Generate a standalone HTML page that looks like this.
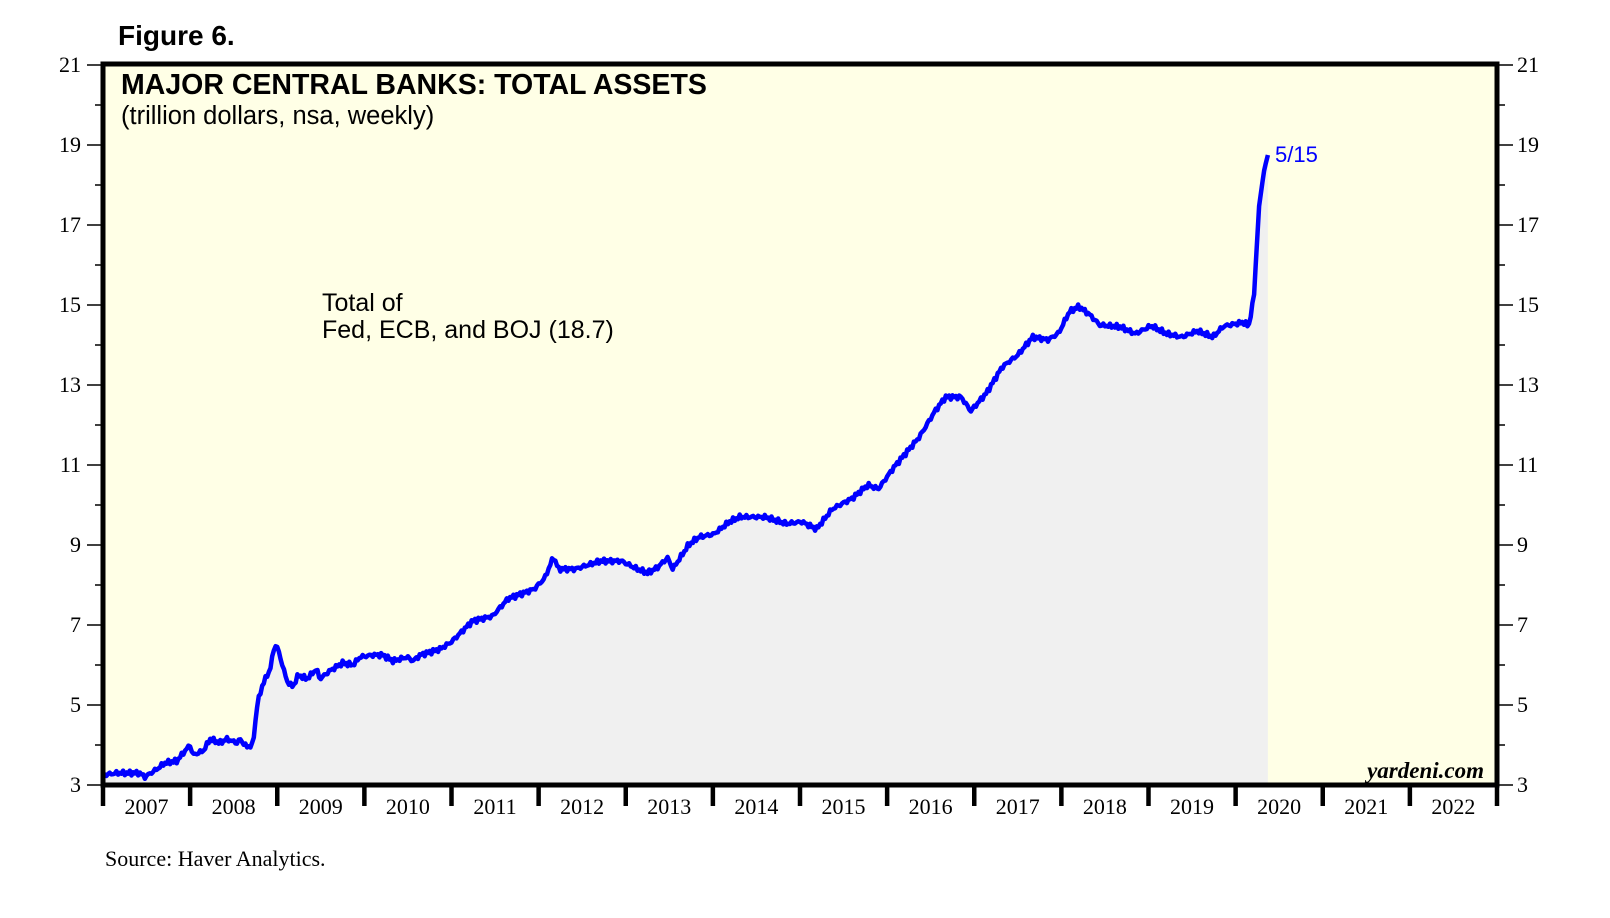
<!DOCTYPE html><html><head><meta charset="utf-8"><style>
body{margin:0;background:#fff;width:1610px;height:918px;overflow:hidden}
svg{display:block}
.t{font-family:"Liberation Serif",serif;font-size:22px;fill:#000}
.s{font-family:"Liberation Sans",sans-serif}
</style></head><body>
<svg id="c" width="1610" height="918" xmlns="http://www.w3.org/2000/svg">
<rect x="103" y="64" width="1394" height="721" fill="#ffffe6"/>
<path id="fill" fill="#f0f0f0"/>
<path id="line" fill="none" stroke="#0000ff" stroke-width="4.5" stroke-linejoin="round"/>
<g id="ticks"></g>
<rect x="103" y="64" width="1394" height="721" fill="none" stroke="#000" stroke-width="5"/>
<text x="118" y="45" class="s" font-size="28" font-weight="bold">Figure 6.</text>
<text x="121" y="94" class="s" font-size="28.5" font-weight="bold">MAJOR CENTRAL BANKS: TOTAL ASSETS</text>
<text x="121" y="124" class="s" font-size="25.5">(trillion dollars, nsa, weekly)</text>
<text x="322" y="311" class="s" font-size="25">Total of</text>
<text x="322" y="338" class="s" font-size="25">Fed, ECB, and BOJ (18.7)</text>
<text x="1275" y="162" class="s" font-size="22" fill="#0000ff">5/15</text>
<text x="1484" y="778" font-family="Liberation Serif,serif" font-size="23" font-weight="bold" font-style="italic" text-anchor="end">yardeni.com</text>
<text x="105" y="866" class="t" font-size="22.5">Source: Haver Analytics.</text>
</svg>
<script>
var d=[[2007,3.25],[2007.16,3.3],[2007.42,3.3],[2007.48,3.2],[2007.62,3.4],[2007.71,3.55],[2007.85,3.6],[2007.92,3.8],[2008,4],[2008.03,3.75],[2008.15,3.85],[2008.23,4.15],[2008.34,4.05],[2008.42,4.15],[2008.54,4.05],[2008.57,4.15],[2008.65,3.95],[2008.72,4],[2008.77,5],[2008.83,5.5],[2008.92,5.9],[2008.97,6.5],[2009,6.45],[2009.06,6],[2009.11,5.6],[2009.18,5.45],[2009.24,5.75],[2009.34,5.65],[2009.45,5.9],[2009.49,5.65],[2009.6,5.85],[2009.75,6.05],[2009.87,6],[2009.95,6.2],[2010.1,6.25],[2010.21,6.25],[2010.33,6.1],[2010.49,6.2],[2010.56,6.1],[2010.64,6.25],[2010.87,6.4],[2011,6.58],[2011.18,6.97],[2011.24,7.1],[2011.47,7.22],[2011.65,7.66],[2011.95,7.9],[2012.07,8.17],[2012.17,8.7],[2012.23,8.4],[2012.42,8.4],[2012.71,8.6],[2012.95,8.6],[2013.13,8.4],[2013.25,8.3],[2013.36,8.43],[2013.48,8.68],[2013.54,8.4],[2013.72,9],[2013.84,9.2],[2014.01,9.27],[2014.19,9.58],[2014.31,9.7],[2014.6,9.7],[2014.84,9.53],[2015.02,9.58],[2015.19,9.4],[2015.37,9.9],[2015.6,10.17],[2015.78,10.5],[2015.9,10.4],[2016.08,10.95],[2016.37,11.7],[2016.55,12.35],[2016.67,12.7],[2016.85,12.7],[2016.96,12.35],[2017.14,12.8],[2017.32,13.45],[2017.5,13.75],[2017.67,14.2],[2017.85,14.13],[2017.97,14.3],[2018.09,14.83],[2018.2,14.96],[2018.32,14.77],[2018.44,14.5],[2018.68,14.45],[2018.85,14.28],[2019.03,14.48],[2019.21,14.28],[2019.38,14.2],[2019.56,14.35],[2019.74,14.2],[2019.86,14.47],[2020.09,14.57],[2020.15,14.47],[2020.21,15.2],[2020.27,17.5],[2020.33,18.4],[2020.37,18.75]];
function X(y){return 103+(y-2007)*87.125}function Y(v){return 785-(v-3)*40}
var pts=[],k=0;
for(var y=2007;y<=2020.37;y+=1/52){while(k<d.length-2&&d[k+1][0]<y)k++;var a=d[k],b=d[k+1];var t=Math.max(0,Math.min(1,(y-a[0])/(b[0]-a[0])));var v=a[1]+(b[1]-a[1])*t;
if(y<2020.2)v+=0.04*Math.sin(y*157)+0.03*Math.sin(y*411);pts.push([X(y),Y(v)]);}
pts.push([X(2020.37),Y(18.75)]);
var p="M"+pts.map(function(q){return q[0].toFixed(1)+","+q[1].toFixed(1)}).join("L");
document.getElementById("line").setAttribute("d",p);
document.getElementById("fill").setAttribute("d",p+"L"+X(2020.37).toFixed(1)+",785L103,785Z");
var g="";
for(var v=3;v<=21;v++){var yy=Y(v),maj=v%2==1;
g+='<line x1="'+(maj?87:95)+'" x2="103" y1="'+yy+'" y2="'+yy+'" stroke="#000" stroke-width="1.5"/>';
g+='<line x1="1497" x2="'+(maj?1513:1505)+'" y1="'+yy+'" y2="'+yy+'" stroke="#000" stroke-width="1.5"/>';
if(maj){g+='<text class="t" x="81" y="'+(yy+7)+'" text-anchor="end">'+v+'</text><text class="t" x="1517" y="'+(yy+7)+'">'+v+'</text>';}}
for(var i=0;i<=16;i++){var xx=X(2007+i);g+='<line x1="'+xx+'" x2="'+xx+'" y1="785" y2="806" stroke="#000" stroke-width="4.5"/>';
if(i<16)g+='<text class="t" x="'+(xx+43.5)+'" y="814" text-anchor="middle">'+(2007+i)+'</text>';}
document.getElementById("ticks").innerHTML=g;
</script>
</body></html>
